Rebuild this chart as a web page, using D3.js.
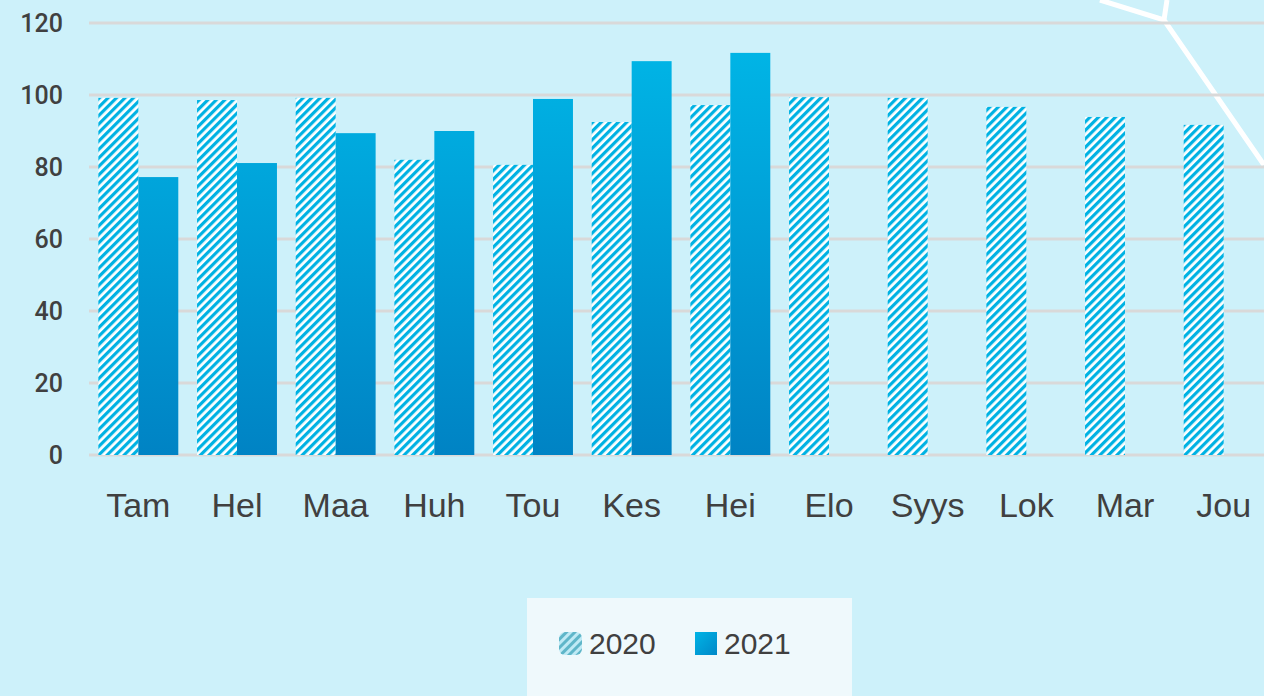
<!DOCTYPE html>
<html>
<head>
<meta charset="utf-8">
<script src="https://cdn.jsdelivr.net/npm/d3@7"></script>
<style>
  body { margin: 0; background: #cdf1fa; overflow: hidden; }
  svg { display: block; }
</style>
</head>
<body>
<svg id="chart" width="1264" height="696"></svg>
<script>
// DATA
const months = ["Tam", "Hel", "Maa", "Huh", "Tou", "Kes", "Hei", "Elo", "Syys", "Lok", "Mar", "Jou"];
const values2020 = [99.2, 98.6, 99.2, 82, 80.6, 92.5, 97.2, 99.4, 99.2, 96.7, 93.9, 91.7];
const values2021 = [77.2, 81.1, 89.4, 90, 98.9, 109.4, 111.7];
const yTicks = [0, 20, 40, 60, 80, 100, 120];
const seriesNames = ["2020", "2021"];

// CANVAS SETUP
const svg = d3.select("#chart");
const width = 1264, height = 696;
const margin = { top: 23, left: 89, bottom: 241 };
const plotRight = 1273;

svg.append("rect").attr("width", width).attr("height", height).attr("fill", "#cdf1fa");

const defs = svg.append("defs");

const hatch = defs.append("pattern")
  .attr("id", "hatch")
  .attr("patternUnits", "userSpaceOnUse")
  .attr("width", 6)
  .attr("height", 6)
  .attr("patternTransform", "rotate(45)");
hatch.append("rect").attr("width", 6).attr("height", 6).attr("fill", "#ffffff");
hatch.append("rect").attr("width", 3.2).attr("height", 6).attr("fill", "#00b2e3");

const legHatch = defs.append("pattern")
  .attr("id", "legHatch")
  .attr("patternUnits", "userSpaceOnUse")
  .attr("width", 6)
  .attr("height", 6)
  .attr("patternTransform", "rotate(45)");
legHatch.append("rect").attr("width", 6).attr("height", 6).attr("fill", "#bfeaf5");
legHatch.append("rect").attr("width", 3).attr("height", 6).attr("fill", "#5fb6c9");

const grad = defs.append("linearGradient")
  .attr("id", "solidGrad")
  .attr("gradientUnits", "userSpaceOnUse")
  .attr("x1", 0).attr("y1", margin.top)
  .attr("x2", 0).attr("y2", height - margin.bottom);
grad.append("stop").attr("offset", "0%").attr("stop-color", "#00b8e8");
grad.append("stop").attr("offset", "100%").attr("stop-color", "#0083c4");

const legGrad = defs.append("linearGradient")
  .attr("id", "legGrad")
  .attr("x1", 0).attr("y1", 0).attr("x2", 1).attr("y2", 1);
legGrad.append("stop").attr("offset", "0%").attr("stop-color", "#00b4e6");
legGrad.append("stop").attr("offset", "100%").attr("stop-color", "#0088c8");

// decorative white lines
svg.append("path")
  .attr("d", "M1100,0 L1164,20 L1167,0 M1164,20 L1264,165")
  .attr("fill", "none")
  .attr("stroke", "#ffffff")
  .attr("stroke-width", 5);

// SCALES
const yScale = d3.scaleLinear().domain([0, 120]).range([height - margin.bottom, margin.top]);
const xScale = d3.scaleBand().domain(months).range([margin.left, plotRight])
  .paddingInner(0.19).paddingOuter(0.095);
const xSub = d3.scaleBand().domain(seriesNames).range([0, xScale.bandwidth()]);

// GRID
svg.append("g")
  .selectAll("line")
  .data(yTicks)
  .join("line")
  .attr("x1", margin.left)
  .attr("x2", width)
  .attr("y1", (d) => yScale(d))
  .attr("y2", (d) => yScale(d))
  .attr("stroke", "#d9d9d9")
  .attr("stroke-width", 3);

// Y AXIS LABELS
svg.append("g")
  .selectAll("text")
  .data(yTicks)
  .join("text")
  .attr("x", 63)
  .attr("y", (d) => yScale(d))
  .attr("dy", "0.36em")
  .attr("text-anchor", "end")
  .attr("font-family", "Roboto, sans-serif")
  .attr("font-weight", 500)
  .attr("font-size", 25)
  .attr("fill", "#404040")
  .text((d) => d);

// BARS
svg.append("g")
  .selectAll("rect")
  .data(values2020)
  .join("rect")
  .attr("x", (d, i) => xScale(months[i]) + xSub("2020"))
  .attr("y", (d) => yScale(d))
  .attr("width", xSub.bandwidth())
  .attr("height", (d) => yScale(0) - yScale(d))
  .attr("fill", "url(#hatch)");

svg.append("g")
  .selectAll("rect")
  .data(values2021)
  .join("rect")
  .attr("x", (d, i) => xScale(months[i]) + xSub("2021"))
  .attr("y", (d) => yScale(d))
  .attr("width", xSub.bandwidth())
  .attr("height", (d) => yScale(0) - yScale(d))
  .attr("fill", "url(#solidGrad)");

// X AXIS LABELS
svg.append("g")
  .selectAll("text")
  .data(months)
  .join("text")
  .attr("x", (d) => xScale(d) + xScale.bandwidth() / 2)
  .attr("y", 517)
  .attr("text-anchor", "middle")
  .attr("font-family", "'Liberation Sans', Arial, sans-serif")
  .attr("font-size", 34)
  .attr("fill", "#404040")
  .text((d) => d);

// LEGEND
const legend = svg.append("g");
legend.append("rect")
  .attr("x", 527).attr("y", 598)
  .attr("width", 325).attr("height", 98)
  .attr("fill", "#eff9fc");

legend.append("rect")
  .attr("x", 559).attr("y", 632)
  .attr("width", 23).attr("height", 23)
  .attr("rx", 6)
  .attr("fill", "url(#legHatch)");
legend.append("text")
  .attr("x", 589).attr("y", 654)
  .attr("font-family", "'Liberation Sans', Arial, sans-serif")
  .attr("font-size", 30)
  .attr("fill", "#404040")
  .text(seriesNames[0]);

legend.append("rect")
  .attr("x", 695).attr("y", 632)
  .attr("width", 22).attr("height", 23)
  .attr("fill", "url(#legGrad)");
legend.append("text")
  .attr("x", 724).attr("y", 654)
  .attr("font-family", "'Liberation Sans', Arial, sans-serif")
  .attr("font-size", 30)
  .attr("fill", "#404040")
  .text(seriesNames[1]);
</script>
</body>
</html>
